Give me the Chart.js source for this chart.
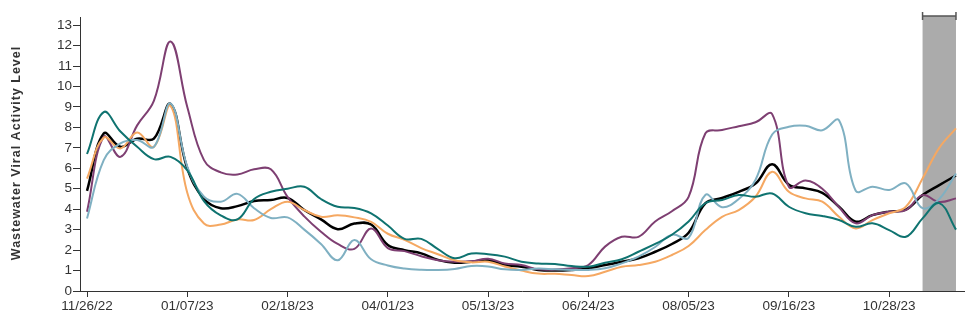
<!DOCTYPE html>
<html lang="en">
<head>
  <meta charset="UTF-8" />
  <title>Wastewater Viral Activity Level</title>
  <style>
    html, body { margin: 0; padding: 0; background: #fff; }
    #wrap { width: 973px; height: 322px; position: relative; }
  </style>
</head>
<body>
  <div id="wrap"><canvas id="wvalChart"></canvas></div>

  <script src="https://cdn.jsdelivr.net/npm/chart.js"></script>
  <script>
    // weekly sample dates
    const weeks = [
      '11/26/22', '12/03/22', '12/10/22', '12/17/22', '12/24/22', '12/31/22',
      '01/07/23', '01/14/23', '01/21/23', '01/28/23', '02/04/23', '02/11/23',
      '02/18/23', '02/25/23', '03/04/23', '03/11/23', '03/18/23', '03/25/23',
      '04/01/23', '04/08/23', '04/15/23', '04/22/23', '04/29/23', '05/06/23',
      '05/13/23', '05/20/23', '05/27/23', '06/03/23', '06/10/23', '06/17/23',
      '06/24/23', '07/01/23', '07/08/23', '07/15/23', '07/22/23', '07/29/23',
      '08/05/23', '08/12/23', '08/19/23', '08/26/23', '09/02/23', '09/09/23',
      '09/16/23', '09/23/23', '09/30/23', '10/07/23', '10/14/23', '10/21/23',
      '10/28/23', '11/04/23', '11/11/23', '11/18/23', '11/25/23'
    ];

    const national = [
      4.9, 7.7, 7.05, 7.45, 7.45, 9.15, 6.0, 4.5, 4.05, 4.15, 4.4, 4.45,
      4.55, 3.96, 3.5, 3.02, 3.3, 3.25, 2.25, 2.0, 1.84, 1.52, 1.38, 1.43,
      1.5, 1.27, 1.19, 1.03, 1.0, 1.03, 1.11, 1.27, 1.43, 1.6, 1.92, 2.3,
      2.85, 4.29, 4.55, 4.85, 5.25, 6.2, 5.2, 5.02, 4.8, 4.12, 3.39, 3.71,
      3.88, 3.98, 4.69, 5.18, 5.65
    ];
    const midwest = [
      5.5, 7.5, 6.97, 7.75, 7.05, 9.05, 4.8, 3.3, 3.25, 3.5, 3.47, 4.0,
      4.37, 3.96, 3.63, 3.7, 3.6, 3.38, 2.8, 2.5, 2.1, 1.8, 1.5, 1.4,
      1.43, 1.2, 1.0, 0.85, 0.84, 0.78, 0.73, 0.94, 1.19, 1.27, 1.43, 1.76,
      2.2, 2.98, 3.63, 3.96, 4.61, 5.83, 4.85, 4.53, 4.37, 3.63, 3.06, 3.47,
      3.8, 4.12, 5.5, 7.0, 7.95
    ];
    const northeast = [
      3.88, 7.54, 6.56, 8.1, 9.3, 12.2, 9.0, 6.4, 5.8, 5.7, 5.95, 5.95,
      4.6, 3.65, 2.9, 2.3, 2.06, 3.06, 2.1, 1.95, 1.7, 1.5, 1.43, 1.45,
      1.58, 1.35, 1.27, 1.06, 1.05, 1.11, 1.27, 2.17, 2.65, 2.65, 3.4, 3.9,
      4.6, 7.7, 7.87, 8.06, 8.25, 8.65, 5.1, 5.4, 5.0, 4.1, 3.31, 3.71,
      3.88, 3.96, 4.69, 4.35, 4.53
    ];
    const south = [
      6.7, 8.75, 7.8, 7.05, 6.45, 6.56, 5.9, 4.4, 3.7, 3.5, 4.5, 4.85,
      5.0, 5.1, 4.5, 4.12, 4.06, 3.8, 3.2, 2.55, 2.55, 2.05, 1.6, 1.83,
      1.8, 1.68, 1.43, 1.35, 1.32, 1.22, 1.19, 1.38, 1.55, 1.92, 2.3, 2.75,
      3.4, 4.29, 4.45, 4.69, 4.61, 4.77, 4.12, 3.8, 3.67, 3.47, 3.14, 3.31,
      2.98, 2.65, 3.55, 4.3, 3.0
    ];
    const west = [
      3.55, 6.4, 7.22, 7.38, 7.05, 9.17, 6.08, 4.61, 4.37, 4.75, 4.05, 3.57,
      3.6, 3.0, 2.3, 1.5, 2.49, 1.55, 1.25, 1.1, 1.04, 1.03, 1.08, 1.22,
      1.2, 1.06, 1.03, 1.1, 1.06, 1.03, 1.03, 1.11, 1.35, 1.68, 2.15, 2.75,
      2.6, 4.7, 4.1, 4.5, 5.43, 7.65, 8.03, 8.08, 7.86, 8.35, 4.9, 5.1,
      4.94, 5.26, 4.05, 4.5, 5.75
    ];

    // x ticks every 6 weeks, y ticks 0..13
    const xTickWeeks = [0, 6, 12, 18, 24, 30, 36, 42, 48];
    const yTickValues = [0, 1, 2, 3, 4, 5, 6, 7, 8, 9, 10, 11, 12, 13];
    // last two weeks are provisional (grey band)
    const provisional = [50, 52];

    const axisFont = { family: '"Liberation Sans", Arial, sans-serif', size: 13.5 };

    const provisionalBand = {
      id: 'provisionalBand',
      beforeDatasetsDraw(chart) {
        const { ctx, chartArea, scales } = chart;
        const x0 = scales.x.getPixelForValue(provisional[0]);
        const x1 = scales.x.getPixelForValue(provisional[1]);
        const top = chartArea.top - 1;
        ctx.save();
        ctx.fillStyle = '#ababab';
        ctx.fillRect(x0, top, x1 - x0, chartArea.bottom - top);
        ctx.strokeStyle = '#555';
        ctx.lineWidth = 1.5;
        ctx.beginPath();
        ctx.moveTo(x0, top); ctx.lineTo(x1, top);
        ctx.moveTo(x0, top - 4); ctx.lineTo(x0, top + 4);
        ctx.moveTo(x1, top - 4); ctx.lineTo(x1, top + 4);
        ctx.stroke();
        ctx.restore();
      }
    };

    const yTitle = {
      id: 'yTitle',
      afterDraw(chart) {
        const { ctx, chartArea } = chart;
        ctx.save();
        ctx.translate(17, (chartArea.top + chartArea.bottom) / 2 - 1);
        ctx.rotate(-Math.PI / 2);
        ctx.font = 'bold 12.5px "Liberation Sans", Arial, sans-serif';
        ctx.letterSpacing = '1px';
        ctx.fillStyle = '#333';
        ctx.textAlign = 'center';
        ctx.textBaseline = 'middle';
        ctx.fillText('Wastewater Viral Activity Level', 0, 0);
        ctx.restore();
      }
    };

    function line(label, data, color, width) {
      return {
        label: label,
        data: data,
        borderColor: color,
        borderWidth: width,
        pointRadius: 0,
        tension: 0.4,
        fill: false
      };
    }

    const ctx = document.getElementById('wvalChart').getContext('2d');
    new Chart(ctx, {
      type: 'line',
      data: {
        labels: weeks.map((w, i) => i),
        datasets: [
          line('South', south, '#0f7370', 2),
          line('West', west, '#7fb0c2', 2),
          line('Midwest', midwest, '#f5a862', 2),
          line('Northeast', northeast, '#7e3f72', 2),
          line('National', national, '#000000', 2.5)
        ]
      },
      options: {
        responsive: true,
        maintainAspectRatio: false,
        animation: false,
        layout: { padding: { top: 17, right: 9, left: 0, bottom: 0 } },
        plugins: {
          legend: { display: false },
          tooltip: { enabled: false }
        },
        scales: {
          x: {
            type: 'linear',
            min: -0.42,
            max: 52.48,
            afterBuildTicks: s => { s.ticks = xTickWeeks.map(v => ({ value: v })); },
            afterFit: s => { s.height = 31; },
            grid: { drawOnChartArea: false, drawTicks: true, tickLength: 6, tickColor: '#333' },
            border: { color: '#333', width: 1 },
            ticks: {
              autoSkip: false,
              maxRotation: 0,
              padding: 1,
              color: '#333',
              font: axisFont,
              callback: v => weeks[v]
            }
          },
          y: {
            min: 0,
            max: 13.4,
            afterBuildTicks: s => { s.ticks = yTickValues.map(v => ({ value: v })); },
            afterFit: s => { s.width = 80; },
            grid: { drawOnChartArea: false, drawTicks: true, tickLength: 7, tickColor: '#333' },
            border: { color: '#333', width: 1 },
            ticks: {
              padding: 1,
              color: '#333',
              font: axisFont
            }
          }
        }
      },
      plugins: [provisionalBand, yTitle]
    });
  </script>
</body>
</html>
